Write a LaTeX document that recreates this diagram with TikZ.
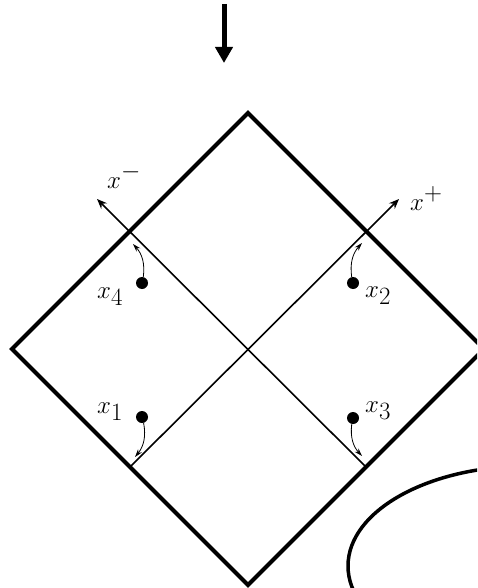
\documentclass[tikz,border=0pt]{standalone}
\usetikzlibrary{arrows.meta}
\DeclareMathSizes{29}{29}{24}{20}
\begin{document}
\begin{tikzpicture}[x=1pt,y=-1pt,
  frame/.style={line width=4pt, line join=miter},
  axisline/.style={line width=1.6pt, -{Stealth[length=10pt,width=8pt]}},
  dotnode/.style={circle, fill=black, inner sep=0pt, minimum size=12pt},
  lbl/.style={inner sep=0pt, font=\fontsize{29}{32}\selectfont},
  flow/.style={line width=0.8pt, -{Stealth[length=8pt,width=5pt]}},
  bigarrow/.style={line width=5pt, -{Triangle[length=16pt,width=17pt]}},
  oval/.style={line width=3.5pt}
]
\useasboundingbox (0,0) rectangle (477,588);
\clip (0,0) rectangle (477,588);
% diamond
\coordinate (T) at (248,113);
\coordinate (L) at (12,349);
\coordinate (B) at (248,585);
\coordinate (R) at (484,349);
\draw[frame] (T) -- (R) -- (B) -- (L) -- cycle;
% axes
\coordinate (pS) at (130,467);
\coordinate (pE) at (399,199);
\coordinate (mS) at (366,467);
\coordinate (mE) at (97,199);
\draw[axisline] (pS) -- (pE);
\draw[axisline] (mS) -- (mE);
\node[lbl, anchor=base west] (lm) at (107,188) {$x^-$};
\node[lbl, anchor=base west] (lp) at (410,210) {$x^+$};
% points
\node[dotnode] (d4) at (142,283) {};
\node[dotnode] (d2) at (353,283) {};
\node[dotnode] (d1) at (142,417) {};
\node[dotnode] (d3) at (353,418) {};
\node[lbl, anchor=base west] (l4) at (97,298) {$x_4$};
\node[lbl, anchor=base west] (l2) at (365,297) {$x_2$};
\node[lbl, anchor=base west] (l1) at (97,413) {$x_1$};
\node[lbl, anchor=base west] (l3) at (365,412) {$x_3$};
\coordinate (c4) at (133,244);
\coordinate (c2) at (362,243);
\coordinate (c1) at (135,457);
\coordinate (c3) at (362,456);
\draw[flow] (d4) to[bend right=25] (c4);
\draw[flow] (d2) to[bend left=25] (c2);
\draw[flow] (d1) to[bend left=25] (c1);
\draw[flow] (d3) to[bend right=25] (c3);
% top arrow
\coordinate (a0) at (224,4);
\coordinate (a1) at (224,63);
\draw[bigarrow] (a0) -- (a1);
% oval
\coordinate (oc) at (528,566);
\draw[oval] (oc) ellipse [x radius=180, y radius=100];
\end{tikzpicture}
\end{document}
